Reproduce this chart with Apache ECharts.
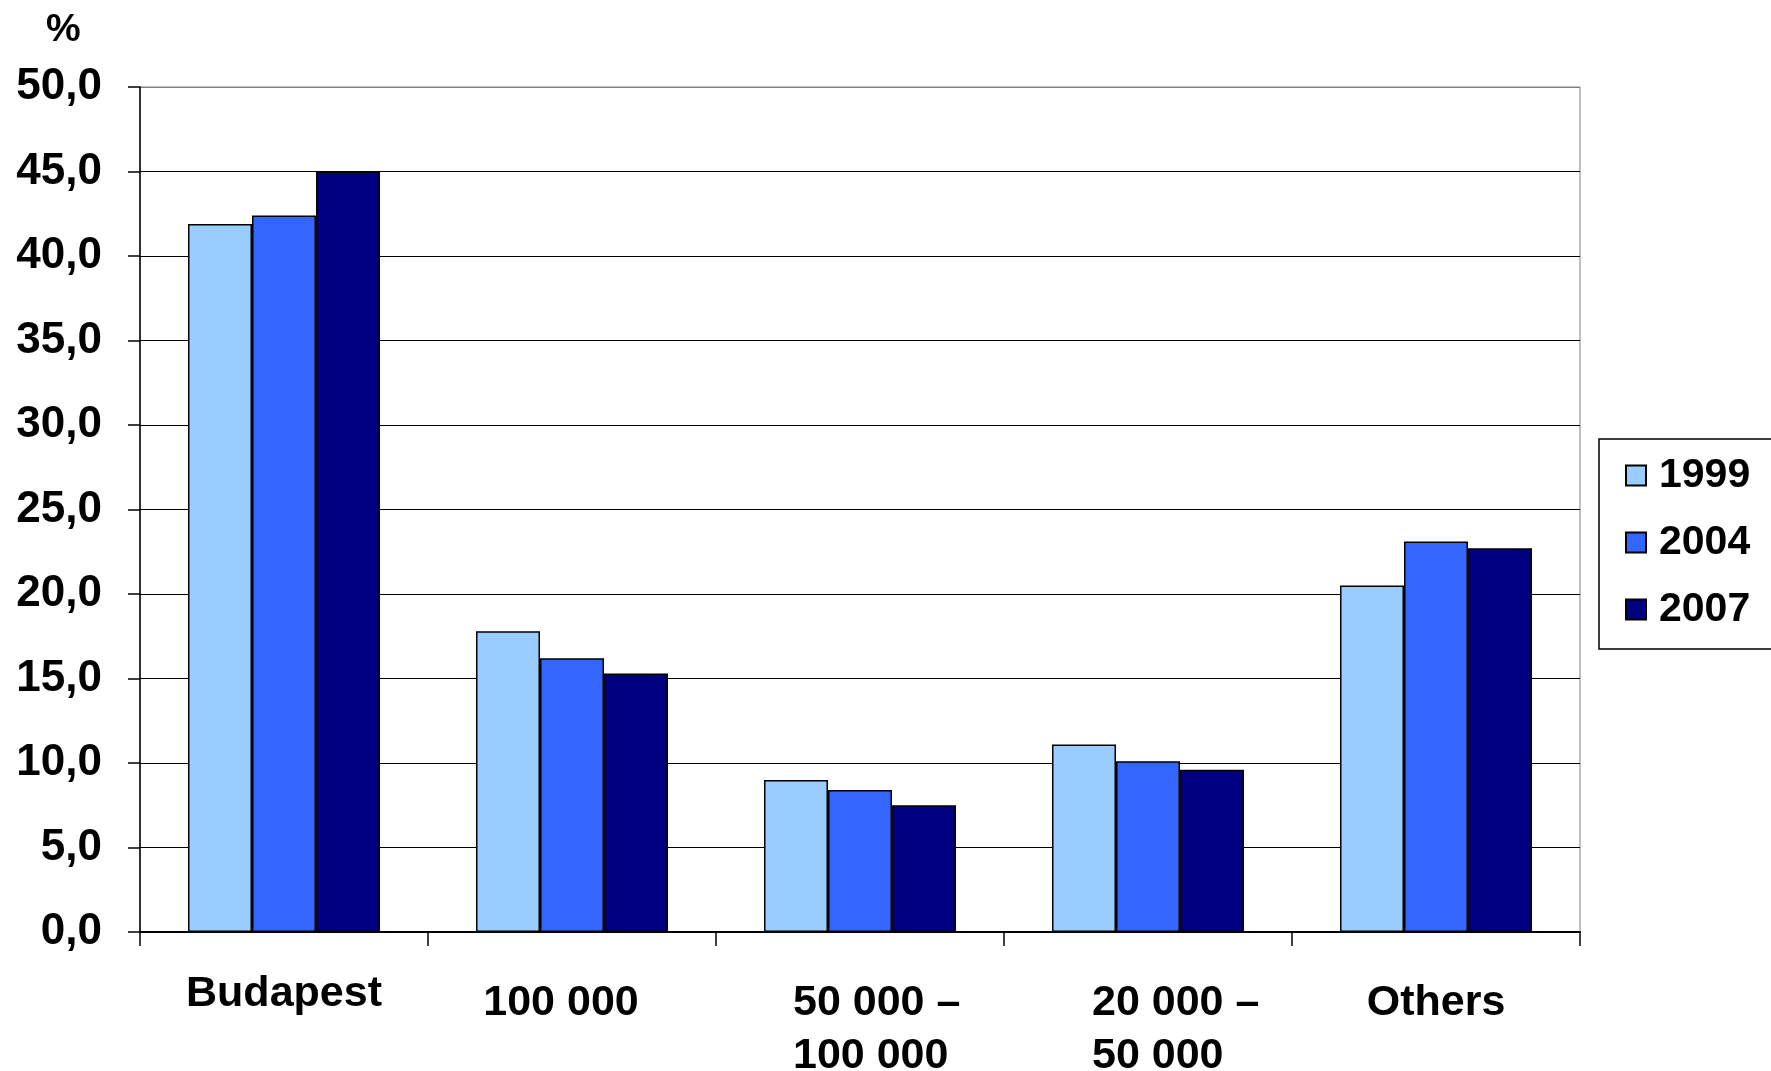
<!DOCTYPE html>
<html>
<head>
<meta charset="utf-8">
<script src="https://cdn.jsdelivr.net/npm/echarts@6/dist/echarts.min.js"></script>
<style>html,body{margin:0;padding:0;background:#fff}#c{width:1771px;height:1071px}</style>
</head>
<body>
<div id="c"></div>
<script>
const categories = ['Budapest', '100 000', '50 000 –\n100 000', '20 000 –\n50 000', 'Others'];
const years = ['1999', '2004', '2007'];
const v1999 = [41.9, 17.8, 9.0, 11.1, 20.5];
const v2004 = [42.4, 16.2, 8.4, 10.1, 23.1];
const v2007 = [45.0, 15.3, 7.5, 9.6, 22.7];
const yTicks = ['0,0','5,0','10,0','15,0','20,0','25,0','30,0','35,0','40,0','45,0','50,0'];
const colors = ['#99CCFF', '#3366FF', '#000080'];

// per-category label shift [dx, dy-down]
const labelShift = [[0, 0], [-11, 9], [18, 9], [29, 9], [0, 9]];

const FONT = 'Liberation Sans, Arial, sans-serif';
const LH = 53;
const rich = {};
labelShift.forEach((s, i) => {
  const dx = s[0], dy = s[1];
  const padL = dx > 0 ? 2 * dx : 0, padR = dx < 0 ? -2 * dx : 0;
  rich['f' + i] = {fontFamily: FONT, fontWeight: 'bold', fontSize: 43, color: '#000', lineHeight: LH + dy, width: 170, align: 'left', padding: [dy, padR, 0, padL]};
  rich['n' + i] = {fontFamily: FONT, fontWeight: 'bold', fontSize: 43, color: '#000', lineHeight: LH, width: 170, align: 'left', padding: [0, padR, 0, padL]};
});
// single-line labels centered
[0, 1, 4].forEach(i => { rich['f' + i].width = null; rich['f' + i].align = 'center'; });

const splitColors = yTicks.map((t, i) => i === yTicks.length - 1 ? '#808080' : '#000');

const chart = echarts.init(document.getElementById('c'), null, {renderer: 'canvas'});
chart.setOption({
  animation: false,
  backgroundColor: '#fff',
  title: {text: '%', left: 41, top: 6, textStyle: {fontFamily: FONT, fontWeight: 'bold', fontSize: 39, color: '#000'}},
  grid: {left: 140, right: 191, top: 87, bottom: 139, outerBoundsMode: 'none', containLabel: false, show: true, borderColor: '#808080', borderWidth: 1, backgroundColor: 'transparent'},
  legend: {
    orient: 'vertical', left: 1599, top: 439,
    padding: [16, 60, 19, 26],
    borderColor: '#000', borderWidth: 1.5,
    itemWidth: 20, itemHeight: 20, itemGap: 26,
    icon: 'rect',
    data: years,
    textStyle: {fontFamily: FONT, fontWeight: 'bold', fontSize: 41, lineHeight: 40, color: '#000', padding: [0, 0, 0, 8]}
  },
  xAxis: {
    type: 'category', data: categories,
    axisLine: {lineStyle: {color: '#000', width: 2}},
    axisTick: {show: true, length: 14, lineStyle: {color: '#000', width: 1.5}},
    axisLabel: {
      interval: 0, margin: 36,
      formatter: (v, i) => v.split('\n').map((l, k) => (k === 0 ? '{f' : '{n') + i + '|' + l + '}').join('\n'),
      rich: rich
    },
    splitLine: {show: false}
  },
  yAxis: {
    type: 'value', min: 0, max: 50, interval: 5,
    axisLine: {show: true, lineStyle: {color: '#000', width: 1.5}},
    axisTick: {show: true, length: 12, lineStyle: {color: '#000', width: 1.5}},
    axisLabel: {
      margin: 38, fontFamily: FONT, fontWeight: 'bold', fontSize: 44, color: '#000',
      formatter: (v) => yTicks[Math.round(v / 5)]
    },
    splitLine: {show: true, lineStyle: {color: splitColors, width: 1}}
  },
  series: years.map((y, k) => ({
    name: y, type: 'bar', barWidth: 64, barGap: '0%',
    data: [v1999, v2004, v2007][k],
    itemStyle: {color: colors[k], borderColor: '#000', borderWidth: 1.5}
  }))
});
</script>
</body>
</html>
